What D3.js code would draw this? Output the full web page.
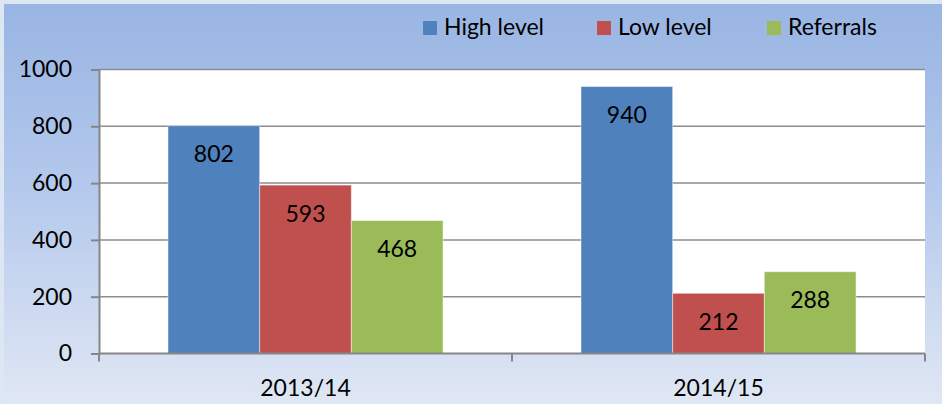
<!DOCTYPE html>
<html>
<head>
<meta charset="utf-8">
<script src="https://cdn.jsdelivr.net/npm/d3@7"></script>
<style>
  html, body { margin: 0; padding: 0; background: #dce6f3; }
  svg { display: block; font-family: Lato, "Open Sans", sans-serif; }
</style>
</head>
<body>
<svg id="chart" width="942" height="404"></svg>
<script>
// chart data
const categories = ['2013/14', '2014/15'];
const seriesNames = ['High level', 'Low level', 'Referrals'];
const seriesColors = ['#4f81bd', '#c0504d', '#9bbb59'];
const highLevel = [802, 940];
const lowLevel = [593, 212];
const referrals = [468, 288];
const yTicks = [0, 200, 400, 600, 800, 1000];

const seriesValues = [highLevel, lowLevel, referrals];
const FS = 23;

const svg = d3.select('#chart');
const W = 942, H = 404;
const margin = {top: 69.5, right: 17, bottom: 50.5, left: 99};

// background gradient
const defs = svg.append('defs');
const grad = defs.append('linearGradient')
  .attr('id', 'bg').attr('x1', 0).attr('y1', 0).attr('x2', 0).attr('y2', 1);
grad.append('stop').attr('offset', '0%').attr('stop-color', '#99b5e3');
grad.append('stop').attr('offset', '45%').attr('stop-color', '#b3c8ec');
grad.append('stop').attr('offset', '100%').attr('stop-color', '#e0e7f4');

svg.append('rect').attr('width', W).attr('height', H).attr('fill', '#dde6f3');
svg.append('rect').attr('x', 4).attr('y', 4).attr('width', W - 4).attr('height', H - 4)
  .attr('fill', 'url(#bg)');

const x0 = d3.scaleBand()
  .domain(categories)
  .range([margin.left, W - margin.right])
  .paddingInner(0)
  .paddingOuter(0);

const innerPad = 69 / 413;
const x1 = d3.scaleBand()
  .domain(seriesNames)
  .range([x0.bandwidth() * innerPad, x0.bandwidth() * (1 - innerPad)])
  .padding(0);

const y = d3.scaleLinear()
  .domain([0, 1000])
  .range([H - margin.bottom, margin.top]);

// plot area
svg.append('rect')
  .attr('x', margin.left).attr('y', margin.top)
  .attr('width', W - margin.right - margin.left)
  .attr('height', y(0) - margin.top)
  .attr('fill', '#ffffff');

// gridlines
svg.append('g')
  .selectAll('line')
  .data(yTicks.filter(d => d > 0))
  .enter().append('line')
    .attr('x1', margin.left).attr('x2', W - margin.right)
    .attr('y1', d => y(d)).attr('y2', d => y(d))
    .attr('stroke', '#8c8c8c')
    .attr('stroke-width', 1.5);

// bars
const groups = svg.append('g')
  .selectAll('g')
  .data(categories)
  .enter().append('g')
    .attr('transform', d => `translate(${x0(d)},0)`);

groups.selectAll('rect')
  .data((c, i) => seriesNames.map((s, j) => ({s: s, v: seriesValues[j][i], color: seriesColors[j]})))
  .enter().append('rect')
    .attr('x', d => x1(d.s))
    .attr('y', d => y(d.v))
    .attr('width', x1.bandwidth())
    .attr('height', d => y(0) - y(d.v))
    .attr('fill', d => d.color)
    .attr('stroke', 'rgba(255,255,255,0.45)')
    .attr('stroke-width', 1);

groups.selectAll('text')
  .data((c, i) => seriesNames.map((s, j) => ({s: s, v: seriesValues[j][i]})))
  .enter().append('text')
    .attr('x', d => x1(d.s) + x1.bandwidth() / 2)
    .attr('y', d => y(d.v) + 36.5)
    .attr('text-anchor', 'middle')
    .attr('font-size', FS)
    .attr('fill', '#000')
    .text(d => d.v);

// y axis
const yAxis = svg.append('g')
  .attr('transform', `translate(${margin.left},0)`)
  .call(d3.axisLeft(y).tickValues(yTicks).tickFormat(d3.format('d')).tickSize(8).tickPadding(19));
yAxis.select('.domain').attr('stroke', '#868686').attr('stroke-width', 2);
yAxis.selectAll('.tick line').attr('stroke', '#868686').attr('stroke-width', 2);
yAxis.selectAll('.tick text')
  .attr('font-size', FS).attr('fill', '#000')
  .attr('font-family', 'Lato, "Open Sans", sans-serif');

// x axis with separators
const xAxis = svg.append('g')
  .attr('transform', `translate(0,${y(0)})`);
xAxis.append('line')
  .attr('x1', margin.left).attr('x2', W - margin.right)
  .attr('stroke', '#868686').attr('stroke-width', 2);
const seps = categories.map(c => x0(c)).concat([x0(categories[categories.length - 1]) + x0.bandwidth()]);
xAxis.selectAll('.sep')
  .data(seps)
  .enter().append('line')
    .attr('class', 'sep')
    .attr('x1', d => d).attr('x2', d => d)
    .attr('y1', 0).attr('y2', 8)
    .attr('stroke', '#868686').attr('stroke-width', 2);
xAxis.selectAll('.lbl')
  .data(categories)
  .enter().append('text')
    .attr('class', 'lbl')
    .attr('x', d => x0(d) + x0.bandwidth() / 2)
    .attr('y', 42)
    .attr('text-anchor', 'middle')
    .attr('font-size', FS)
    .attr('fill', '#000')
    .text(d => d);

// legend
const legendX = [423, 597, 767];
const legend = svg.append('g')
  .selectAll('g')
  .data(seriesNames)
  .enter().append('g')
    .attr('transform', (d, i) => `translate(${legendX[i]},20)`);
legend.append('rect')
  .attr('width', 14).attr('height', 14).attr('y', 1)
  .attr('fill', (d, i) => seriesColors[i]);
legend.append('text')
  .attr('x', 21).attr('y', 15)
  .attr('font-size', FS)
  .attr('fill', '#000')
  .text(d => d);
</script>
</body>
</html>
